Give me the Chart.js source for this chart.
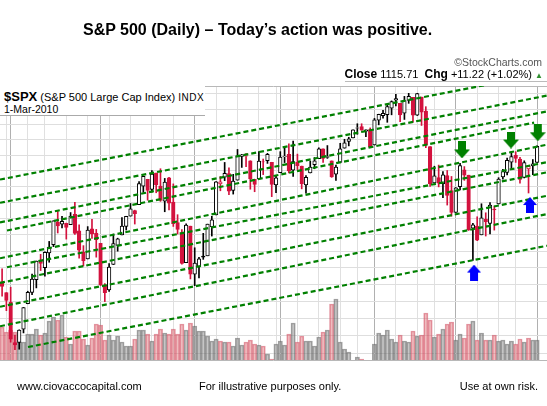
<!DOCTYPE html>
<html>
<head>
<meta charset="utf-8">
<title>S&amp;P 500 (Daily)</title>
<script src="https://cdn.jsdelivr.net/npm/chart.js@4.4.1/dist/chart.umd.min.js"></script>
<style>
  html, body { margin: 0; padding: 0; background: #fff; }
  body { position: relative; width: 547px; height: 406px; overflow: hidden; font-family: "Liberation Sans", Arial, sans-serif; color: #000; }
  #spxChart { position: absolute; left: 0; top: 0; }
  .label { position: absolute; white-space: nowrap; z-index: 2; }
  #title { left: 83px; top: 22px; font-size: 16px; line-height: 16px; font-weight: bold; }
  #copyright { right: 5px; top: 57px; font-size: 10.5px; line-height: 11px; color: #555; }
  #quote { right: 4px; top: 68px; font-size: 11px; line-height: 12px; }
  #quote b { font-size: 12px; }
  #quote .up { color: #2f8f2f; font-size: 8px; }
  #quoteRule { position: absolute; left: 345px; top: 81px; width: 202px; height: 1px; background: #bbb; z-index: 2; }
  #header { position: absolute; left: 0; top: 85px; width: 205px; height: 30px; background: #fff; border-bottom: 1px solid #aaa; z-index: 2; }
  #symbol { left: 4px; top: 5px; font-size: 11px; line-height: 14px; }
  #symbol b { font-size: 13px; }
  #symbol .exch { font-size: 10px; letter-spacing: 0.5px; margin-left: 3px; }
  #asof { left: 4px; top: 19px; font-size: 10.5px; line-height: 11px; }
  .foot { top: 381px; font-size: 11px; line-height: 11px; }
</style>
</head>
<body>
<canvas id="spxChart" width="547" height="406"></canvas>

<div class="label" id="title">S&amp;P 500 (Daily) – Today’s action was positive.</div>
<div class="label" id="copyright">©StockCharts.com</div>
<div class="label" id="quote"><b>Close</b> 1115.71&nbsp; <b>Chg</b> +11.22 (+1.02%) <span class="up">▲</span></div>
<div id="quoteRule"></div>
<div id="header">
  <div class="label" id="symbol"><b>$SPX</b> (S&amp;P 500 Large Cap Index)<span class="exch">INDX</span></div>
  <div class="label" id="asof">1-Mar-2010</div>
</div>
<div class="label foot" style="left:17px">www.ciovaccocapital.com</div>
<div class="label foot" style="left:199px">For illustrative purposes only.</div>
<div class="label foot" style="right:9px">Use at own risk.</div>

<script>
// daily $SPX bars, 28-Aug-2009 .. 1-Mar-2010
const dates = [
  '2009-08-28','2009-08-31','2009-09-01','2009-09-02','2009-09-03','2009-09-04','2009-09-08','2009-09-09','2009-09-10','2009-09-11',
  '2009-09-14','2009-09-15','2009-09-16','2009-09-17','2009-09-18','2009-09-21','2009-09-22','2009-09-23','2009-09-24','2009-09-25',
  '2009-09-28','2009-09-29','2009-09-30','2009-10-01','2009-10-02','2009-10-05','2009-10-06','2009-10-07','2009-10-08','2009-10-09',
  '2009-10-12','2009-10-13','2009-10-14','2009-10-15','2009-10-16','2009-10-19','2009-10-20','2009-10-21','2009-10-22','2009-10-23',
  '2009-10-26','2009-10-27','2009-10-28','2009-10-29','2009-10-30','2009-11-02','2009-11-03','2009-11-04','2009-11-05','2009-11-06',
  '2009-11-09','2009-11-10','2009-11-11','2009-11-12','2009-11-13','2009-11-16','2009-11-17','2009-11-18','2009-11-19','2009-11-20',
  '2009-11-23','2009-11-24','2009-11-25','2009-11-27','2009-11-30','2009-12-01','2009-12-02','2009-12-03','2009-12-04','2009-12-07',
  '2009-12-08','2009-12-09','2009-12-10','2009-12-11','2009-12-14','2009-12-15','2009-12-16','2009-12-17','2009-12-18','2009-12-21',
  '2009-12-22','2009-12-23','2009-12-24','2009-12-28','2009-12-29','2009-12-30','2009-12-31','2010-01-04','2010-01-05','2010-01-06',
  '2010-01-07','2010-01-08','2010-01-11','2010-01-12','2010-01-13','2010-01-14','2010-01-15','2010-01-19','2010-01-20','2010-01-21',
  '2010-01-22','2010-01-25','2010-01-26','2010-01-27','2010-01-28','2010-01-29','2010-02-01','2010-02-02','2010-02-03','2010-02-04',
  '2010-02-05','2010-02-08','2010-02-09','2010-02-10','2010-02-11','2010-02-12','2010-02-16','2010-02-17','2010-02-18','2010-02-19',
  '2010-02-22','2010-02-23','2010-02-24','2010-02-25','2010-02-26','2010-03-01'
];

const opens = [
  1031.62, 1025.21, 1019.52, 996.07, 996.12, 1003.84, 1018.67, 1025.36, 1032.99, 1043.92,
  1040.15, 1049.03, 1053.99, 1067.87, 1066.60, 1067.14, 1066.35, 1072.69, 1062.56, 1049.48,
  1045.38, 1063.69, 1061.02, 1054.91, 1029.71, 1026.87, 1042.02, 1053.65, 1060.03, 1065.28,
  1071.63, 1074.96, 1078.68, 1090.36, 1094.67, 1088.22, 1098.64, 1090.36, 1080.96, 1095.62,
  1080.36, 1067.54, 1061.51, 1043.19, 1065.41, 1036.18, 1040.92, 1047.14, 1047.30, 1064.95,
  1072.31, 1091.86, 1096.04, 1098.31, 1087.59, 1094.13, 1109.22, 1109.44, 1106.44, 1094.66,
  1094.86, 1105.83, 1106.49, 1105.47, 1091.07, 1098.89, 1109.03, 1110.59, 1100.43, 1105.52,
  1103.04, 1091.07, 1098.69, 1103.96, 1107.84, 1114.11, 1108.61, 1106.36, 1097.86, 1105.31,
  1114.51, 1118.84, 1121.08, 1127.53, 1128.55, 1125.53, 1126.60, 1116.56, 1132.66, 1135.71,
  1136.27, 1140.52, 1145.96, 1143.81, 1137.31, 1145.68, 1147.72, 1136.03, 1147.95, 1138.68,
  1115.49, 1092.40, 1095.80, 1091.94, 1096.93, 1087.61, 1073.89, 1090.05, 1100.67, 1097.25,
  1064.12, 1065.51, 1060.06, 1069.68, 1067.10, 1075.95, 1079.13, 1096.14, 1099.03, 1105.49,
  1110.00, 1107.49, 1095.89, 1101.24, 1103.10, 1105.36
];

const highs = [
  1039.47, 1025.21, 1028.45, 1000.34, 1003.43, 1016.48, 1026.07, 1036.34, 1044.14, 1048.18,
  1049.74, 1056.04, 1068.76, 1074.77, 1071.52, 1067.28, 1073.81, 1080.15, 1066.29, 1053.47,
  1065.13, 1069.62, 1063.40, 1054.91, 1030.60, 1042.58, 1060.55, 1058.02, 1070.67, 1071.51,
  1079.46, 1075.30, 1093.17, 1096.56, 1094.67, 1100.17, 1098.64, 1101.36, 1095.21, 1095.83,
  1091.75, 1072.48, 1063.26, 1066.83, 1065.41, 1052.18, 1046.36, 1061.00, 1066.65, 1071.48,
  1093.19, 1096.42, 1105.37, 1101.97, 1097.79, 1113.69, 1110.52, 1111.10, 1106.44, 1094.66,
  1112.38, 1107.56, 1111.18, 1105.47, 1097.24, 1112.28, 1115.58, 1117.28, 1119.13, 1110.72,
  1103.04, 1097.04, 1106.25, 1108.50, 1114.76, 1114.11, 1116.21, 1106.36, 1103.74, 1117.68,
  1120.27, 1121.58, 1126.48, 1130.38, 1130.38, 1126.42, 1127.64, 1133.87, 1136.63, 1139.19,
  1142.46, 1145.39, 1149.74, 1143.81, 1148.40, 1150.41, 1147.77, 1150.45, 1147.95, 1141.58,
  1115.49, 1102.97, 1103.69, 1099.51, 1100.22, 1096.45, 1089.38, 1104.73, 1102.72, 1097.25,
  1067.13, 1071.20, 1079.28, 1073.67, 1080.04, 1077.81, 1095.67, 1101.03, 1108.24, 1112.42,
  1112.29, 1108.58, 1106.42, 1103.50, 1107.24, 1116.11
];

const lows = [
  1023.13, 1014.62, 996.28, 991.97, 992.25, 1001.65, 1018.67, 1023.97, 1028.04, 1038.40,
  1035.00, 1043.42, 1052.87, 1061.20, 1064.27, 1057.46, 1066.35, 1060.39, 1045.85, 1041.17,
  1045.38, 1057.83, 1046.47, 1029.45, 1019.95, 1025.92, 1042.02, 1050.10, 1060.03, 1063.00,
  1071.63, 1066.71, 1078.68, 1086.41, 1081.53, 1086.48, 1086.16, 1080.77, 1074.31, 1075.49,
  1065.23, 1060.62, 1042.19, 1043.19, 1033.38, 1029.38, 1033.94, 1045.15, 1047.30, 1059.32,
  1072.31, 1087.40, 1093.81, 1084.90, 1085.33, 1094.13, 1102.19, 1102.70, 1088.40, 1086.81,
  1094.86, 1097.63, 1104.75, 1083.74, 1086.25, 1098.89, 1105.29, 1098.74, 1096.52, 1100.83,
  1088.61, 1085.89, 1098.69, 1101.34, 1107.84, 1105.35, 1107.96, 1095.88, 1093.88, 1105.31,
  1114.51, 1116.00, 1121.08, 1123.51, 1126.08, 1121.94, 1114.81, 1116.56, 1129.66, 1133.95,
  1131.32, 1136.22, 1142.02, 1131.77, 1133.18, 1143.80, 1131.39, 1135.77, 1129.25, 1114.84,
  1090.18, 1092.40, 1089.86, 1083.11, 1078.46, 1071.59, 1073.89, 1087.96, 1093.97, 1062.78,
  1044.50, 1056.51, 1060.06, 1059.34, 1060.59, 1062.97, 1079.13, 1094.72, 1097.48, 1100.80,
  1105.38, 1092.18, 1095.50, 1086.02, 1097.56, 1105.36
];

const closes = [
  1028.93, 1020.62, 998.04, 994.75, 1003.24, 1016.40, 1025.39, 1033.37, 1044.14, 1042.73,
  1049.34, 1052.63, 1068.76, 1065.49, 1068.30, 1064.66, 1071.66, 1060.87, 1050.78, 1044.38,
  1062.98, 1060.61, 1057.08, 1029.85, 1025.21, 1040.46, 1054.72, 1057.58, 1065.48, 1071.49,
  1076.19, 1073.19, 1092.02, 1096.56, 1087.68, 1097.91, 1091.06, 1081.40, 1092.91, 1079.60,
  1066.95, 1063.41, 1042.63, 1066.11, 1036.19, 1042.88, 1045.41, 1046.50, 1066.63, 1069.30,
  1093.08, 1093.01, 1098.51, 1087.24, 1093.48, 1109.30, 1110.32, 1109.80, 1094.90, 1091.38,
  1106.24, 1105.65, 1110.63, 1091.49, 1095.63, 1108.86, 1109.24, 1099.92, 1105.98, 1103.25,
  1091.94, 1095.95, 1102.35, 1106.41, 1114.11, 1107.93, 1109.18, 1096.08, 1102.47, 1114.05,
  1118.02, 1120.59, 1126.48, 1127.78, 1126.20, 1126.42, 1115.10, 1132.99, 1136.52, 1137.14,
  1141.69, 1144.98, 1146.98, 1136.22, 1145.68, 1148.46, 1136.03, 1150.23, 1138.04, 1116.48,
  1091.76, 1096.78, 1092.17, 1097.50, 1084.53, 1073.87, 1089.19, 1103.32, 1097.28, 1063.11,
  1066.19, 1056.74, 1070.52, 1068.13, 1078.47, 1075.51, 1094.87, 1099.51, 1106.75, 1109.17,
  1108.01, 1094.60, 1105.24, 1102.94, 1104.49, 1115.71
];

// volume in millions of shares
const volumes = [
  5300, 4800, 5000, 4800, 3800, 3800, 4600, 4600, 5100, 4500,
  4700, 5900, 6300, 6000, 6500, 4300, 3600, 4900, 4900, 4100,
  3500, 4200, 5600, 5500, 4000, 4500, 4000, 4400, 3800, 3400,
  3400, 4100, 5000, 5000, 4600, 3900, 4600, 5100, 4700, 4600,
  5100, 4600, 5600, 5000, 5700, 5400, 4900, 4900, 4400, 3900,
  4100, 3900, 3800, 3800, 3400, 4200, 3500, 3800, 4000, 3600,
  3500, 3400, 2600, 2100, 3600, 3900, 3500, 4600, 5700, 3800,
  4400, 3900, 3900, 3400, 4300, 4800, 5000, 7600, 8100, 3800,
  3100, 2800, 1500, 2300, 2100, 1900, 1800, 3600, 4700, 4500,
  5000, 4100, 3800, 4500, 3900, 3800, 4900, 4400, 4500, 6700,
  6000, 4300, 4600, 5100, 5600, 5800, 4000, 4600, 4200, 5600,
  5900, 4000, 4700, 4000, 4000, 4500, 3900, 4000, 3600, 3900,
  3600, 4100, 3800, 4200, 4000, 4000
];

const priorClose = 1030.98; // 27-Aug-2009

// horizontal grid levels
const gridPrices = [990, 1000, 1010, 1020, 1030, 1040, 1050, 1060, 1070, 1080, 1090, 1100, 1110, 1120, 1130, 1140, 1150];

// green dashed channel lines (bar index, price)
const channelFromIdx   = [-0.49, -0.49, -0.49, 1.14, -0.49, 1.14, -0.49, -0.49, -0.49, 6.05];
const channelFromPrice = [1094.5, 1079.9, 1067.7, 1062.7, 1045.8, 1040.4, 1031.0, 1016.9, 1005.5, 993.5];
const channelToIdx     = [127.31, 127.31, 127.31, 124.3, 127.31, 127.31, 127.31, 127.31, 127.31, 127.31];
const channelToPrice   = [1164.0, 1148.9, 1138.5, 1131.1, 1116.8, 1105.5, 1099.1, 1084.3, 1072.9, 1053.4];

// annotation arrows
const downArrowIdx   = [107.45, 118.9, 125.16];
const downArrowPrice = [1113.4, 1119.8, 1124.5];
const upArrowIdx     = [110.26, 123.34];
const upArrowPrice   = [1037.2, 1078.5];

const red = '#D3123E';
const black = '#000000';
const green = '#008000';

const prevCloses = closes.map((c, i) => (i === 0 ? priorClose : closes[i - 1]));
const downDay = closes.map((c, i) => c < prevCloses[i]);
const hollow = closes.map((c, i) => c > opens[i]);
const candleColors = downDay.map(d => (d ? red : black));

// weekly and monthly separators
const weekday = s => new Date(s + 'T00:00:00Z').getUTCDay();
const weekLines = [];
const monthLines = [];
dates.forEach((d, i) => {
  if (i === 0) return;
  if (weekday(d) < weekday(dates[i - 1])) weekLines.push(i);
  if (d.slice(0, 7) !== dates[i - 1].slice(0, 7)) monthLines.push(i);
});
const verticalLines = [...new Set([...weekLines, ...monthLines])].sort((a, b) => a - b);

function makeArrow(color, w, h, shaft, head, up) {
  const c = document.createElement('canvas');
  c.width = w;
  c.height = h;
  const g = c.getContext('2d');
  const l = (w - shaft) / 2, r = (w + shaft) / 2;
  g.fillStyle = color;
  g.beginPath();
  if (up) {
    g.moveTo(w / 2, 0); g.lineTo(w, head); g.lineTo(r, head); g.lineTo(r, h);
    g.lineTo(l, h); g.lineTo(l, head); g.lineTo(0, head);
  } else {
    g.moveTo(l, 0); g.lineTo(r, 0); g.lineTo(r, h - head); g.lineTo(w, h - head);
    g.lineTo(w / 2, h); g.lineTo(0, h - head); g.lineTo(l, h - head);
  }
  g.closePath();
  g.fill();
  return c;
}

const priceMin = 986.08, priceMax = 1155.31;

const channelSets = channelFromIdx.map((x0, k) => ({
  type: 'line',
  data: [{ x: x0, y: channelFromPrice[k] }, { x: channelToIdx[k], y: channelToPrice[k] }],
  borderColor: green,
  borderWidth: 2.2,
  borderDash: [5, 3],
  pointRadius: 0,
  fill: false,
  yAxisID: 'y',
  order: 2
}));

new Chart(document.getElementById('spxChart'), {
  type: 'bar',
  data: {
    datasets: [
      {
        label: 'Volume',
        yAxisID: 'vol',
        data: volumes.map((v, i) => ({ x: i, y: v })),
        backgroundColor: downDay.map(d => (d ? 'rgba(219,106,115,0.45)' : 'rgba(128,128,128,0.45)')),
        borderColor: downDay.map(d => (d ? 'rgba(210,80,100,0.6)' : 'rgba(100,100,100,0.6)')),
        borderWidth: 1,
        borderSkipped: false,
        barThickness: 4.3,
        grouped: false,
        order: 5
      },
      {
        label: 'Range',
        yAxisID: 'y',
        data: lows.map((lo, i) => ({ x: i, y: [lo, highs[i]] })),
        backgroundColor: candleColors,
        barThickness: 1,
        grouped: false,
        order: 4
      },
      {
        label: 'Body',
        yAxisID: 'y',
        data: opens.map((o, i) => ({ x: i, y: [o, closes[i]] })),
        backgroundColor: hollow.map((h, i) => (h ? '#ffffff' : candleColors[i])),
        borderColor: candleColors,
        borderWidth: 1,
        borderSkipped: false,
        barThickness: 3.6,
        grouped: false,
        order: 3
      },
      ...channelSets,
      {
        type: 'line',
        yAxisID: 'y',
        data: downArrowIdx.map((x, k) => ({ x: x, y: downArrowPrice[k] })),
        showLine: false,
        pointStyle: makeArrow(green, 16, 17, 8, 9, false),
        pointRadius: 8,
        order: 1
      },
      {
        type: 'line',
        yAxisID: 'y',
        data: upArrowIdx.map((x, k) => ({ x: x, y: upArrowPrice[k] })),
        showLine: false,
        pointStyle: makeArrow('#0000FF', 14, 16, 8, 8, true),
        pointRadius: 8,
        order: 1
      }
    ]
  },
  options: {
    responsive: false,
    animation: false,
    events: [],
    layout: { autoPadding: false, padding: { left: 0, right: 0, top: 86, bottom: 46 } },
    plugins: {
      legend: { display: false },
      tooltip: { enabled: false }
    },
    scales: {
      x: {
        type: 'linear',
        min: -0.4907,
        max: 127.313,
        bounds: 'data',
        offset: false,
        ticks: { display: false },
        border: { display: false },
        grid: {
          offset: false,
          drawTicks: false,
          color: ctx => (monthLines.includes(ctx.tick && ctx.tick.value) ? '#b0b0b0' : '#e0e0e0')
        },
        afterBuildTicks: axis => { axis.ticks = verticalLines.map(v => ({ value: v })); }
      },
      y: {
        type: 'logarithmic',
        min: priceMin,
        max: priceMax,
        bounds: 'data',
        beginAtZero: false,
        ticks: { display: false },
        border: { display: false },
        grid: {
          drawTicks: false,
          color: ctx => {
            const v = ctx.tick && ctx.tick.value;
            return v === priceMin || v === priceMax ? '#b8b8b8' : '#dedede';
          }
        },
        afterBuildTicks: axis => {
          axis.ticks = [priceMin, ...gridPrices, priceMax].map(v => ({ value: v }));
        }
      },
      vol: {
        type: 'linear',
        axis: 'y',
        position: 'right',
        display: false,
        min: 2000,
        max: 29400,
        bounds: 'data'
      }
    }
  }
});
</script>
</body>
</html>
